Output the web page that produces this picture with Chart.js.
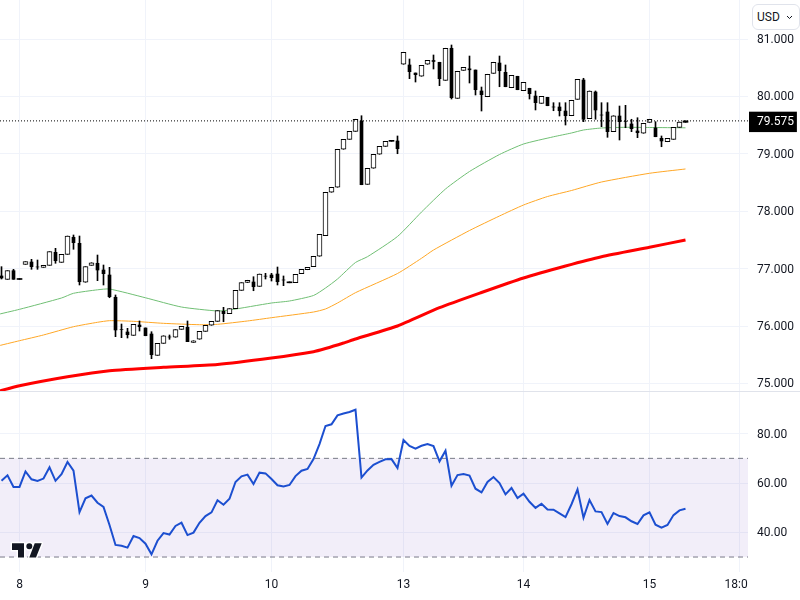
<!DOCTYPE html>
<html>
<head>
<meta charset="utf-8">
<script src="https://cdn.jsdelivr.net/npm/chart.js@4"></script>
<style>
html,body{margin:0;padding:0;background:#fff;width:800px;height:600px;overflow:hidden}
#wrap{position:relative;width:800px;height:600px}
canvas{position:absolute;left:0;top:0}
#cur{position:absolute;left:752px;top:4px;width:42px;height:24px;border:1px solid #e0e3eb;border-radius:6px;background:#fff;
font:12px Roboto,sans-serif;color:#131722;line-height:24px;padding-left:4px;box-sizing:content-box}
#cur svg{position:absolute;left:33px;top:10px}
</style>
</head>
<body>
<div id="wrap">
<canvas id="c" width="800" height="600"></canvas>
<div id="cur">USD<svg width="7" height="5" viewBox="0 0 7 5"><path d="M1 1 L3.5 3.5 L6 1" fill="none" stroke="#131722" stroke-width="1"/></svg></div>
</div>
<script>
const opens=[76.873,76.815,76.965,76.829,77.076,77.116,77.030,77.024,77.059,77.285,77.111,77.250,77.547,77.442,76.763,77.059,77.094,76.977,76.890,76.502,
75.940,75.897,75.839,76.019,75.967,75.862,75.491,75.700,75.810,75.805,75.944,75.979,75.717,75.770,75.909,76.014,76.083,76.257,76.216,76.303,
76.623,76.759,76.768,76.693,76.870,76.890,76.907,76.803,76.771,76.756,76.913,76.982,77.035,77.216,77.575,78.331,78.418,79.080,79.254,79.393,
79.573,78.470,78.749,78.993,79.132,79.236,79.225,80.561,80.549,80.409,80.352,80.561,80.627,80.596,80.282,80.840,79.968,80.456,80.482,80.461,
80.096,79.996,80.404,80.583,80.421,80.153,80.352,80.101,80.143,80.008,79.881,79.986,79.817,79.817,79.747,79.665,79.951,80.287,79.613,80.078,
79.677,79.730,79.387,79.660,79.561,79.521,79.399,79.359,79.550,79.451,79.271,79.212,79.254,79.463,79.575];
const highs=[77.035,76.965,76.989,76.829,77.122,77.163,77.151,77.059,77.296,77.355,77.250,77.569,77.587,77.569,77.035,77.104,77.238,77.064,77.024,76.542,
76.036,75.961,76.031,76.089,75.967,75.902,75.700,75.832,75.845,75.937,75.996,76.089,75.745,75.909,76.014,76.083,76.268,76.327,76.303,76.623,
76.756,76.798,76.860,76.907,76.919,76.919,77.029,76.873,76.771,76.902,76.989,77.024,77.216,77.599,78.331,78.418,79.080,79.254,79.393,79.603,
79.665,78.749,78.993,79.132,79.219,79.236,79.312,80.770,80.653,80.409,80.543,80.630,80.723,80.596,80.840,80.897,80.439,80.508,80.705,80.461,
80.165,80.387,80.596,80.705,80.549,80.369,80.352,80.247,80.143,80.096,80.003,79.986,79.892,79.892,79.892,79.934,80.299,80.317,80.096,80.096,
79.892,79.892,79.665,79.834,79.846,79.603,79.630,79.533,79.603,79.561,79.312,79.271,79.463,79.556,79.575];
const lows=[76.820,76.815,76.815,76.812,77.076,76.989,76.989,77.024,77.059,77.094,77.111,77.250,77.338,76.716,76.763,77.059,76.791,76.716,76.494,75.815,
75.798,75.792,75.839,75.914,75.832,75.432,75.491,75.700,75.770,75.805,75.944,75.728,75.717,75.770,75.909,76.014,76.083,76.076,76.216,76.303,
76.623,76.759,76.616,76.693,76.820,76.785,76.716,76.704,76.754,76.756,76.913,76.982,77.035,77.216,77.575,78.331,78.418,79.080,79.254,79.393,
78.463,78.470,78.749,78.993,79.132,79.219,79.003,80.561,80.310,80.252,80.352,80.561,80.479,80.188,80.282,79.956,79.968,80.456,80.235,80.026,
79.747,79.996,80.404,80.170,80.170,80.153,80.118,80.101,79.956,79.765,79.881,79.839,79.752,79.660,79.503,79.665,79.951,79.561,79.613,79.603,
79.474,79.289,79.387,79.242,79.456,79.387,79.282,79.359,79.550,79.299,79.125,79.212,79.254,79.463,79.550];
const closes=[76.838,76.965,76.815,76.812,77.122,77.035,77.030,77.059,77.296,77.139,77.250,77.569,77.453,76.773,77.035,77.104,76.977,76.913,76.512,75.932,
75.940,75.850,76.031,75.989,75.832,75.501,75.700,75.832,75.810,75.937,75.996,75.728,75.745,75.909,76.014,76.083,76.268,76.216,76.303,76.623,
76.756,76.798,76.686,76.907,76.870,76.843,76.773,76.803,76.754,76.902,76.989,77.024,77.216,77.599,78.331,78.418,79.080,79.254,79.393,79.603,
78.463,78.749,78.993,79.132,79.219,79.219,79.090,80.770,80.432,80.380,80.543,80.630,80.610,80.310,80.840,79.979,80.439,80.508,80.465,80.118,
80.031,80.387,80.596,80.449,80.170,80.369,80.118,80.247,80.049,79.892,80.003,79.839,79.817,79.752,79.665,79.934,80.299,79.603,80.096,79.765,
79.677,79.387,79.665,79.561,79.561,79.439,79.369,79.533,79.603,79.299,79.225,79.271,79.463,79.556,79.550];
const rsi=[60.9,63.1,58.4,58.4,64.7,61.5,60.8,61.8,66.4,60.9,63.6,68.5,65,48.2,53.8,54.9,52,50.3,43,34.9,
34.6,33.8,38.5,37.7,35.4,31.1,36.6,39.7,39.1,42.6,43.9,38.9,39.9,43.9,46.6,48.1,53,51.2,53.6,60.4,
62.7,63.4,59.6,64.2,63.9,61.6,59.1,58.6,59.2,62.8,65,65.7,69.7,75.8,83.1,83.8,87.4,88.2,88.8,89.7,
62.2,65.1,67.4,68.6,69.6,69.7,66.1,77.4,75,73.9,75.1,75.8,75,68.8,73.1,58.9,63.2,63.6,63,57.7,
56.2,60.4,62.4,60,55.4,58,53.9,55.7,52.4,49.9,51.6,49.3,49.2,47.7,46.2,51.4,57.4,45.9,53.1,48.5,
48.2,43.4,47.8,46.6,46.1,44.5,43.4,46.9,48.1,43.1,41.9,43,47,48.9,49.6];
const greenIdx=[-1,3,10,12,16,18,24,30,36,38,45,48,52,54,56,59,61,66,70,74,78,83,87,92,95,97,100,104,108,114];
const greenVal=[76.193,76.292,76.489,76.571,76.632,76.646,76.493,76.332,76.263,76.280,76.402,76.437,76.533,76.663,76.820,77.108,77.209,77.561,77.987,78.388,78.693,78.989,79.172,79.298,79.364,79.416,79.451,79.463,79.460,79.454];
const orangeIdx=[-1,3,7,12,16,18,22,27,33,36,41,45,52,54,56,59,66,70,72,78,83,87,91,95,100,108,114];
const orangeVal=[75.644,75.745,75.845,75.989,76.066,76.094,76.083,76.048,76.024,76.031,76.089,76.146,76.245,76.298,76.402,76.582,76.916,77.181,77.325,77.665,77.918,78.109,78.257,78.362,78.510,78.662,78.737];
const redIdx=[-1,3,11,18,27,36,45,52,54,57,59,66,73,80,87,94,100,108,114];
const redVal=[74.852,74.961,75.118,75.223,75.282,75.331,75.444,75.554,75.609,75.705,75.775,76.001,76.320,76.585,76.838,77.047,77.209,77.373,77.500];
const lastPrice=79.575;
const priceTicks=[75,76,77,78,79,79.575,80,81];
const rsiTicks=[40,60,80];
const rsiUpper=70, rsiLower=30;
const dayIdx=[3,24,45,67,87,108,123];
const dayLabels=['8','9','10','13','14','15','18:00'];
const axisFont={family:'Roboto, sans-serif',size:12};
const xMin=-0.25, xMax=124.4167;
const idx=opens.map((_,i)=>i);
const isWhite=i=>closes[i]>opens[i];
const isDash=i=>!isWhite(i)&&opens[i]-closes[i]<0.03&&highs[i]===opens[i]&&lows[i]===closes[i];
const isBlack=i=>!isWhite(i)&&!isDash(i);
const bodies=f=>idx.filter(f).map(i=>({x:i,y:[opens[i],closes[i]]}));
const isLast=c=>c.tick&&c.tick.value===lastPrice;
const noPad=a=>{a.width=52;a.paddingTop=0;a.paddingBottom=0;};
const panel={
  id:'panel',
  afterDraw(ch){
    const c=ch.ctx; c.save();
    // separator between panes and clip of the time axis at the price axis
    c.fillStyle='#fff'; c.fillRect(748,573,52,27);
    c.fillStyle='#e0e3eb'; c.fillRect(0,391,800,1);
    // logo
    c.fillStyle='#fff'; c.strokeStyle='#fff'; c.lineWidth=3; c.lineJoin='round';
    const shape=()=>{c.beginPath();c.moveTo(12,543.3);c.lineTo(24,543.3);c.lineTo(24,557.5);c.lineTo(18,557.5);c.lineTo(18,550);c.lineTo(12,550);c.closePath();
      c.moveTo(34.7,543.3);c.lineTo(41.7,543.3);c.lineTo(36,557.5);c.lineTo(29.3,557.5);c.closePath();
      c.moveTo(32.3,546.3);c.arc(29.3,546.3,3,0,7);};
    shape();c.stroke();
    c.fillStyle='#131722';shape();c.fill();
    c.restore();
  }
};
new Chart(document.getElementById('c'),{
  type:'bar',
  plugins:[panel],
  data:{datasets:[
    {type:'line',label:'last',xAxisID:'x',yAxisID:'price',order:0,data:[{x:xMin,y:lastPrice},{x:xMax,y:lastPrice}],borderColor:'#000',borderWidth:1,borderDash:[1,2],pointRadius:0},
    {type:'bar',label:'up body',xAxisID:'x',yAxisID:'price',order:1,grouped:false,barThickness:5,borderWidth:1,borderSkipped:false,borderColor:'#000',backgroundColor:'#fff',data:bodies(isWhite)},
    {type:'bar',label:'down body',xAxisID:'x',yAxisID:'price',order:1,grouped:false,barThickness:3,borderWidth:0,backgroundColor:'#000',data:bodies(isBlack)},
    {type:'bar',label:'flat body',xAxisID:'x',yAxisID:'price',order:1,grouped:false,barThickness:5,borderWidth:0,backgroundColor:'#000',data:bodies(isDash)},
    {type:'bar',label:'wick',xAxisID:'x',yAxisID:'price',order:2,grouped:false,barThickness:1,borderWidth:0,backgroundColor:'#000',
      data:idx.map(i=>({x:i,y:[lows[i],highs[i]]}))},
    {type:'line',label:'MA fast',xAxisID:'x',yAxisID:'price',order:3,data:greenIdx.map((x,i)=>({x,y:greenVal[i]})),borderColor:'#70bf74',borderWidth:1,pointRadius:0,tension:0.2},
    {type:'line',label:'MA mid',xAxisID:'x',yAxisID:'price',order:4,data:orangeIdx.map((x,i)=>({x,y:orangeVal[i]})),borderColor:'#ffa726',borderWidth:1,pointRadius:0,tension:0.2},
    {type:'line',label:'MA slow',xAxisID:'x',yAxisID:'price',order:5,data:redIdx.map((x,i)=>({x,y:redVal[i]})),borderColor:'#ff0000',borderWidth:3,pointRadius:0,tension:0.2},
    {type:'line',label:'RSI',xAxisID:'x',yAxisID:'rsi',order:6,data:idx.map(i=>({x:i,y:rsi[i]})),borderColor:'#1c4fd0',borderWidth:2,pointRadius:0,tension:0},
    {type:'line',label:'upper',xAxisID:'x',yAxisID:'rsi',order:7,data:[{x:xMin,y:rsiUpper},{x:xMax,y:rsiUpper}],borderColor:'#787b86',borderWidth:1,borderDash:[5,4],pointRadius:0,fill:'+1',backgroundColor:'rgba(126,87,194,0.1)'},
    {type:'line',label:'lower',xAxisID:'x',yAxisID:'rsi',order:8,data:[{x:xMin,y:rsiLower},{x:xMax,y:rsiLower}],borderColor:'#787b86',borderWidth:1,borderDash:[5,4],pointRadius:0}
  ]},
  options:{
    responsive:false,animation:false,devicePixelRatio:1,
    layout:{padding:0},
    plugins:{legend:{display:false},tooltip:{enabled:false},title:{display:false}},
    scales:{
      x:{type:'linear',min:xMin,max:xMax,offset:false,position:'bottom',
        afterBuildTicks:a=>{a.ticks=dayIdx.map(v=>({value:v}));},
        afterFit:a=>{a.height=28;a.paddingLeft=0;a.paddingRight=0;},
        grid:{color:'#f0f3fa',drawTicks:false,offset:false},border:{display:false},
        ticks:{autoSkip:false,maxRotation:0,padding:6,color:'#131722',font:axisFont,
          callback:v=>dayLabels[dayIdx.indexOf(v)]}},
      price:{type:'linear',position:'right',stack:'panes',stackWeight:391,min:74.869,max:81.681,
        afterBuildTicks:a=>{a.ticks=priceTicks.map(v=>({value:v}));},
        afterFit:noPad,
        grid:{color:c=>isLast(c)?'rgba(0,0,0,0)':'#f0f3fa',drawTicks:false},border:{display:false},
        ticks:{autoSkip:false,padding:9,labelOffset:1,font:axisFont,
          color:c=>isLast(c)?'#fff':'#131722',
          showLabelBackdrop:c=>isLast(c),
          backdropColor:'#000',
          backdropPadding:{top:3,bottom:3,left:8,right:3},
          callback:v=>Number(v).toFixed(3)}},
      rsi:{type:'linear',position:'right',stack:'panes',stackWeight:181,min:23.93,max:97.3,
        afterBuildTicks:a=>{a.ticks=rsiTicks.map(v=>({value:v}));},
        afterFit:noPad,
        grid:{color:'#f0f3fa',drawTicks:false},border:{display:false},
        ticks:{autoSkip:false,padding:9,labelOffset:1,color:'#131722',font:axisFont,
          callback:v=>Number(v).toFixed(2)}}
    }
  }
});
</script>
</body>
</html>
